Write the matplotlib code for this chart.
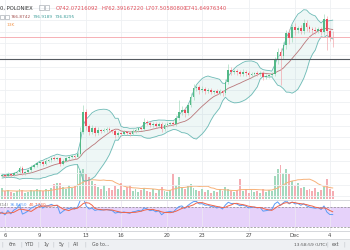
import numpy as np
import pandas as pd
import matplotlib
matplotlib.use("Agg")
import matplotlib.pyplot as plt
import matplotlib.dates as mdates
from matplotlib.patches import Rectangle

# ---------------- data (DASH/USDT, 6h candles, Poloniex) ----------------
start = "2017-11-02 18:00"
pre_close = [262, 265, 270, 267, 272, 268, 264, 270, 273, 268, 271, 269]
close = [272, 269, 276, 272, 279, 283, 296, 279, 283, 289,
         300, 306, 313, 317, 310, 320, 323, 330, 327, 330,
         310, 320, 330, 334, 337, 334, 344, 419, 487, 439,
         419, 432, 415, 425, 422, 425, 429, 425, 422, 408,
         415, 412, 419, 415, 412, 422, 425, 432, 429, 453,
         449, 442, 446, 439, 446, 429, 442, 446, 449, 446,
         466, 487, 493, 483, 510, 538, 568, 572, 561, 565,
         558, 561, 555, 558, 551, 558, 551, 589, 629, 623,
         626, 623, 616, 623, 619, 612, 616, 619, 616, 619,
         606, 609, 612, 616, 663, 691, 677, 714, 755, 738,
         776, 765, 772, 762, 789, 776, 769, 765, 762, 769,
         759, 803, 762, 742.07, 741.65]
first_open = 266
wick_up = [4, 5, 3, 6, 4, 5, 3, 4, 6, 3, 5, 4,
           5, 4, 6, 3, 5, 4, 8, 6, 4, 5,
           6, 5, 4, 7, 5, 6, 4, 5, 6, 4,
           5, 6, 4, 5, 6, 4, 8, 15, 23, 10,
           8, 12, 6, 9, 5, 7, 6, 8, 5, 6,
           7, 5, 6, 4, 5, 8, 6, 5, 7, 12,
           6, 8, 5, 7, 6, 5, 8, 6, 5, 7,
           12, 40, 15, 10, 8, 12, 14, 10, 8, 9,
           7, 6, 8, 5, 7, 6, 5, 10, 21, 9,
           8, 7, 6, 9, 5, 7, 6, 5, 8, 6,
           7, 6, 5, 8, 10, 14, 12, 10, 12, 15,
           10, 12, 8, 9, 14, 10, 8, 7, 9, 6,
           8, 16, 10, 8, 20.32]
wick_dn = [4, 3, 5, 4, 6, 3, 4, 5, 3, 4, 5, 3,
           4, 6, 3, 5, 4, 5, 4, 6, 5, 4,
           5, 4, 6, 5, 7, 4, 5, 6, 4, 5,
           8, 5, 4, 6, 5, 7, 4, 6, 8, 12,
           10, 8, 9, 6, 7, 5, 8, 6, 7, 10,
           6, 7, 5, 8, 6, 5, 7, 6, 5, 6,
           8, 5, 7, 6, 5, 9, 6, 5, 7, 8,
           6, 8, 12, 15, 6, 8, 10, 9, 12, 8,
           9, 6, 7, 8, 6, 7, 10, 5, 8, 10,
           7, 9, 8, 6, 10, 7, 5, 8, 6, 7,
           9, 6, 7, 5, 8, 12, 99, 10, 14, 20,
           12, 15, 10, 9, 11, 14, 10, 12, 9, 8,
           10, 12, 65, 14, 34.14]
volume_k = [8, 6, 9, 7, 10, 8, 7, 9, 6, 8, 7, 9,
            11, 8, 9, 7, 6, 8, 10, 9, 6, 7,
            9, 8, 10, 9, 8, 10, 9, 11, 15, 16,
            16, 12, 10, 14, 11, 13, 35, 28, 30, 25,
            22, 18, 15, 12, 10, 14, 8, 11, 9, 13,
            10, 16, 9, 12, 14, 8, 10, 7, 9, 11,
            8, 7, 10, 6, 9, 12, 8, 7, 9, 25,
            14, 22, 12, 10, 13, 15, 11, 9, 8, 10,
            7, 9, 6, 8, 7, 10, 8, 12, 10, 8,
            7, 9, 20, 8, 10, 6, 9, 7, 8, 6,
            10, 7, 9, 8, 23, 30, 34, 26, 30, 25,
            18, 14, 16, 11, 12, 9, 10, 8, 11, 7,
            9, 12, 20, 10, 8]

tick_dates = ["2017-11-06", "2017-11-09", "2017-11-13", "2017-11-16", "2017-11-20",
              "2017-11-23", "2017-11-27", "2017-12-01", "2017-12-04"]
tick_labels = ["6", "9", "13", "16", "20", "23", "27", "Dec", "4"]

header_ohlc = ["O742.07216092", "H762.39167220", "L707.50580800", "C741.64976340"]
bb_labels = ["766.8742", "796.9189", "736.8295"]
rsi_labels = ["36.8450", "40.7740"]
toolbar_left = ["6m", "YTD", "1y", "5y", "All", "Go to..."]

# ---------------- derived series ----------------
closes = np.array(pre_close + close, dtype=float)
opens = np.concatenate([[first_open], closes[:-1]])
highs = np.maximum(opens, closes) + np.array(wick_up)
lows = np.minimum(opens, closes) - np.array(wick_dn)
vol = np.array(volume_k, dtype=float)
times = pd.date_range(start, periods=len(closes), freq="6h")
t = mdates.date2num(times.to_pydatetime())
up = closes >= opens

cs = pd.Series(closes)
basis = cs.rolling(13).mean()
sd = cs.rolling(13).std(ddof=0)
upper = basis + 2 * sd
lower = basis - 2 * sd
vol_ma = pd.Series(vol).rolling(13).mean()
diff = cs.diff().fillna(0)
ag = diff.clip(lower=0).ewm(alpha=1 / 14, adjust=False).mean()
al = (-diff.clip(upper=0)).ewm(alpha=1 / 14, adjust=False).mean()
rsi = 100 - 100 / (1 + ag / al)
rsi_ma = rsi.rolling(4).mean()

# ---------------- figure ----------------
W, H = 350, 250
fig = plt.figure(figsize=(3.5, 2.5), dpi=100)
fig.patch.set_facecolor("white")


def fx(x):
    return x / W


def fy(y):
    return 1 - y / H


main_pos = [0, fy(199), 1, 199 / H]
rsi_pos = [0, fy(231), 1, 31 / H]

tick_x = mdates.date2num(pd.to_datetime(tick_dates).to_pydatetime())
px_per_day = 11.6
x0 = tick_x[0] - 5 / px_per_day
x1 = x0 + W / px_per_day

GREEN, RED = "#53b987", "#eb4d5c"
GRID = "#eef0f3"

# volume (bottom layer)
axv = fig.add_axes(main_pos)
axv.set_xlim(x0, x1)
axv.set_ylim(0, 199)
for tx in tick_x:
    axv.axvline(tx, color=GRID, lw=0.6, zorder=0)
axv.bar(t, vol, width=0.17, color=np.where(up, "#a3d9be", "#f5adb3"), zorder=1)
axv.plot(t, vol_ma, color="#f7b27a", lw=0.7, zorder=2)
axv.axis("off")

# price
ax = fig.add_axes(main_pos)
ax.patch.set_visible(False)
ax.set_xlim(x0, x1)
ax.set_ylim(190.85, 867.45)
for p in np.arange(200, 861, 40):
    ax.axhline(p, color=GRID, lw=0.6, zorder=0)
ax.fill_between(t, lower, upper, color="#5fb6b0", alpha=0.1, lw=0, zorder=1)
ax.plot(t, upper, color="#6cbab5", lw=0.6, zorder=2)
ax.plot(t, lower, color="#6cbab5", lw=0.6, zorder=2)
ax.plot(t, basis, color="#b9777a", lw=0.6, zorder=2)
ax.vlines(t, lows, highs, colors=np.where(up, "#a6dcc0", "#f3a9ae"), lw=0.5, zorder=3)
ax.bar(t, np.abs(closes - opens) + 0.8, bottom=np.minimum(opens, closes),
       width=0.15, color=np.where(up, GREEN, RED), lw=0, zorder=4)
ax.axhline(closes[-1], color="#f5a3a9", lw=0.6, zorder=2)
ax.axhline(667, color="#555a60", lw=0.8, zorder=5)
ax.axis("off")

# RSI
axr = fig.add_axes(rsi_pos)
axr.set_xlim(x0, x1)
axr.set_ylim(22, 84)
axr.axhspan(30, 70, color="#e6d2fa", lw=0, zorder=0)
for tx in tick_x:
    axr.axvline(tx, color="#ece6f4", lw=0.6, zorder=1)
axr.axhline(70, color="#888888", lw=0.5, ls=(0, (3, 2)), zorder=2)
axr.axhline(30, color="#888888", lw=0.5, ls=(0, (3, 2)), zorder=2)
axr.plot(t, rsi, color="#5b9cf6", lw=0.7, zorder=3)
axr.plot(t, rsi_ma, color="#f0654a", lw=0.7, zorder=4)
for s in axr.spines.values():
    s.set_visible(False)
axr.set_yticks([])
axr.set_xticks(tick_x)
axr.set_xticklabels(tick_labels, fontsize=3.8, color="#4a4a4a")
axr.tick_params(axis="x", length=0, pad=1.6)

# panel separators
fig.add_artist(plt.Line2D([0, 1], [fy(199.5), fy(199.5)], color="#d5d7db", lw=0.7))
fig.add_artist(plt.Line2D([0, 1], [fy(231), fy(231)], color="#d5d7db", lw=0.7))

# header
fs = 3.8
fig.text(fx(0.5), fy(8), "0, POLONIEX", fontsize=fs, color="#333333", va="center")
for xb in (39, 45):
    fig.add_artist(Rectangle((fx(xb), fy(10)), fx(4.5), 4.5 / H, fill=False,
                             ec="#9aa0a8", lw=0.4))
for s, xs in zip(header_ohlc, (56, 101, 146, 185)):
    fig.text(fx(xs), fy(8), s, fontsize=fs, color="#e0525d", va="center")
for xb in (0, 5):
    fig.add_artist(Rectangle((fx(xb), fy(19)), fx(3.5), 3.5 / H, fill=False,
                             ec="#9aa0a8", lw=0.4))
for s, xs, c in zip(bb_labels, (11, 33, 55), ("#a3514f", "#3e9e9a", "#3e9e9a")):
    fig.text(fx(xs), fy(17), s, fontsize=3.1, color=c, va="center")
fig.text(fx(7), fy(25), "13K", fontsize=3.2, color="#f29a52", va="center")

# RSI legend
fig.text(fx(0), fy(205), "I(14)", fontsize=2.8, color="#777777", va="center")
fig.text(fx(10), fy(205), rsi_labels[0], fontsize=3.1, color="#5b9cf6", va="center")
fig.text(fx(29), fy(205), rsi_labels[1], fontsize=3.1, color="#f0654a", va="center")

# bottom toolbar
fig.add_artist(Rectangle((0, 0), 1, fy(239), color="#eef0f3", lw=0))
fig.add_artist(plt.Line2D([0, 1], [fy(239), fy(239)], color="#d5d7db", lw=0.6))
for s, xs in zip(toolbar_left, (9, 25, 43, 59, 73, 92)):
    fig.text(fx(xs), fy(244.5), s, fontsize=3.4, color="#555555", va="center")
for xs in (1, 20, 37, 52, 67, 84):
    fig.text(fx(xs), fy(244.5), "|", fontsize=3.4, color="#b8bcc2", va="center")
fig.text(fx(294), fy(244.5), "13:58:59 (UTC)", fontsize=3.2, color="#555555", va="center")
fig.text(fx(326.5), fy(244.5), "|", fontsize=3.4, color="#b8bcc2", va="center")
fig.text(fx(332), fy(244.5), "ext", fontsize=3.4, color="#555555", va="center")
fig.text(fx(343), fy(244.5), "|", fontsize=3.4, color="#b8bcc2", va="center")

fig.savefig("out.png", dpi=100)
